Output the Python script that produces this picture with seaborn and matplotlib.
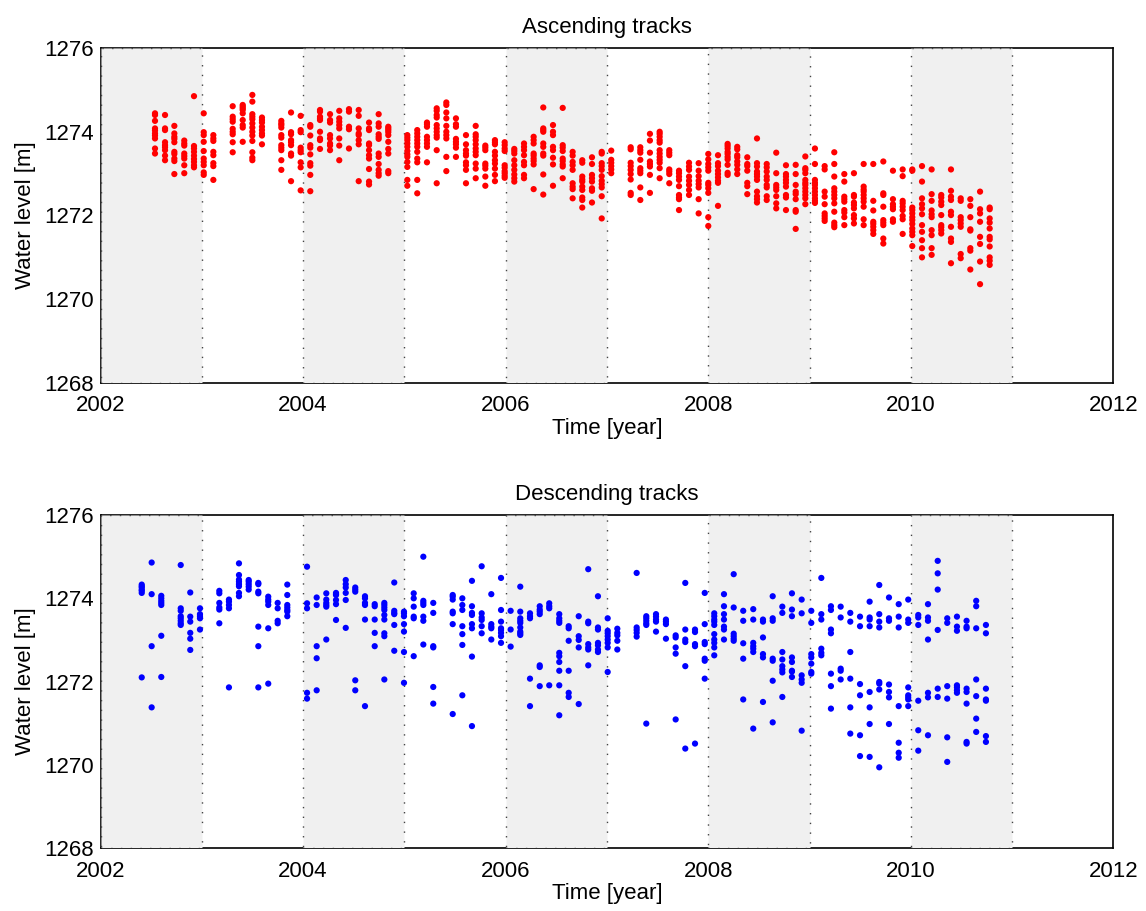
import numpy as np
import pandas as pd
import matplotlib
matplotlib.use("Agg")
import matplotlib.pyplot as plt
import seaborn as sns

# ---- Ascending tracks: pass dates (decimal year) and water levels [m] per pass ----
asc_dates = [
    2002.538, 2002.637, 2002.729, 2002.827, 2002.923, 2003.019, 2003.114,
    2003.305, 2003.404, 2003.499, 2003.594, 2003.785, 2003.881, 2003.976,
    2004.071, 2004.167, 2004.266, 2004.357, 2004.453, 2004.549, 2004.651,
    2004.746, 2004.841, 2005.029, 2005.127, 2005.223, 2005.319, 2005.414,
    2005.509, 2005.608, 2005.704, 2005.799, 2005.894, 2005.990, 2006.085,
    2006.181, 2006.276, 2006.371, 2006.467, 2006.563, 2006.661, 2006.756,
    2006.852, 2006.948, 2007.042, 2007.234, 2007.329, 2007.424, 2007.520,
    2007.615, 2007.711, 2007.810, 2007.905, 2008.000, 2008.096, 2008.191,
    2008.286, 2008.385, 2008.481, 2008.577, 2008.671, 2008.767, 2008.863,
    2008.958, 2009.053, 2009.149, 2009.244, 2009.343, 2009.438, 2009.534,
    2009.629, 2009.728, 2009.823, 2009.919, 2010.014, 2010.110, 2010.205,
    2010.300, 2010.396, 2010.492, 2010.587, 2010.683, 2010.778,
]
asc_levels = [
    [1274.44, 1274.40, 1274.26, 1274.08, 1274.03, 1273.96, 1273.91, 1273.84, 1273.60, 1273.48],
    [1274.40, 1274.08, 1274.04, 1273.75, 1273.68, 1273.63, 1273.56, 1273.43, 1273.32],
    [1274.14, 1273.96, 1273.88, 1273.83, 1273.75, 1273.52, 1273.47, 1273.36, 1273.30, 1272.99],
    [1273.79, 1273.72, 1273.67, 1273.48, 1273.42, 1273.36, 1273.20, 1273.01],
    [1274.85, 1273.66, 1273.60, 1273.52, 1273.43, 1273.35, 1273.28, 1273.20, 1273.15],
    [1274.44, 1273.99, 1273.92, 1273.76, 1273.54, 1273.36, 1273.28, 1273.20, 1273.03, 1272.97],
    [1273.92, 1273.84, 1273.78, 1273.52, 1273.44, 1273.25, 1273.18, 1272.85],
    [1274.61, 1274.36, 1274.30, 1274.24, 1274.07, 1274.00, 1273.94, 1273.75, 1273.51],
    [1274.64, 1274.60, 1274.56, 1274.52, 1274.44, 1274.28, 1274.16, 1274.10, 1273.76],
    [1274.88, 1274.72, 1274.42, 1274.36, 1274.30, 1274.20, 1274.10, 1274.00, 1273.91, 1273.78, 1273.51, 1273.38, 1273.32],
    [1274.34, 1274.28, 1274.22, 1274.12, 1274.04, 1273.96, 1273.91, 1273.70],
    [1274.26, 1274.20, 1274.16, 1274.10, 1273.92, 1273.86, 1273.68, 1273.62, 1273.56, 1273.32, 1273.09],
    [1274.46, 1273.99, 1273.94, 1273.80, 1273.75, 1273.68, 1273.48, 1273.43, 1272.82],
    [1274.38, 1274.04, 1273.99, 1273.62, 1273.56, 1273.51, 1273.27, 1273.15, 1272.60],
    [1274.16, 1274.12, 1273.91, 1273.68, 1273.62, 1273.46, 1273.25, 1273.19, 1272.97, 1272.58],
    [1274.52, 1274.48, 1274.36, 1274.32, 1274.28, 1274.00, 1273.84, 1273.80, 1273.59],
    [1274.42, 1274.28, 1274.22, 1273.92, 1273.84, 1273.72, 1273.67, 1273.56],
    [1274.50, 1274.32, 1274.24, 1274.16, 1274.08, 1273.84, 1273.67, 1273.32],
    [1274.54, 1274.48, 1274.12, 1274.06, 1273.60],
    [1274.52, 1274.38, 1274.08, 1273.96, 1273.92, 1273.80, 1273.70, 1272.82],
    [1274.22, 1274.08, 1274.04, 1273.72, 1273.68, 1273.56, 1273.44, 1273.36, 1273.11, 1272.81, 1272.74],
    [1274.42, 1274.20, 1274.12, 1273.94, 1273.88, 1273.83, 1273.48, 1273.40, 1273.23, 1273.09, 1273.01, 1272.95],
    [1274.12, 1274.08, 1274.04, 1273.99, 1273.92, 1273.76, 1273.59, 1273.48, 1273.06, 1273.01],
    [1273.92, 1273.86, 1273.80, 1273.72, 1273.64, 1273.54, 1273.46, 1273.40, 1273.28, 1273.16, 1272.85, 1272.71],
    [1274.04, 1273.96, 1273.88, 1273.80, 1273.72, 1273.64, 1273.52, 1273.36, 1273.27, 1272.85, 1272.53],
    [1274.22, 1274.18, 1274.12, 1273.88, 1273.80, 1273.72, 1273.64, 1273.27],
    [1274.56, 1274.50, 1274.40, 1274.34, 1274.16, 1274.08, 1274.00, 1273.92, 1273.86, 1273.56, 1272.77],
    [1274.70, 1274.64, 1274.46, 1274.32, 1274.14, 1274.00, 1273.92, 1273.84, 1273.40, 1273.06],
    [1274.32, 1274.18, 1274.12, 1273.83, 1273.76, 1273.70, 1273.62, 1273.40],
    [1273.92, 1273.70, 1273.56, 1273.48, 1273.43, 1273.27, 1273.20, 1273.09, 1272.77],
    [1274.14, 1273.94, 1273.88, 1273.80, 1273.70, 1273.60, 1273.52, 1273.44, 1273.24, 1273.12, 1272.89],
    [1273.67, 1273.62, 1273.56, 1273.24, 1273.19, 1273.12, 1272.93, 1272.71],
    [1273.80, 1273.75, 1273.70, 1273.52, 1273.43, 1273.32, 1273.24, 1273.12, 1272.97, 1272.82],
    [1273.75, 1273.68, 1273.60, 1273.54, 1273.20, 1273.14, 1273.06, 1273.01, 1272.95, 1272.90],
    [1273.59, 1273.54, 1273.48, 1273.32, 1273.20, 1273.09, 1272.98, 1272.89, 1272.81],
    [1273.72, 1273.64, 1273.56, 1273.44, 1273.28, 1273.20, 1272.97, 1272.89],
    [1273.88, 1273.80, 1273.72, 1273.48, 1273.43, 1273.36, 1273.30, 1273.22, 1272.63],
    [1274.58, 1274.08, 1274.04, 1274.00, 1273.72, 1273.64, 1273.48, 1273.43, 1272.98, 1272.50],
    [1274.16, 1274.00, 1273.92, 1273.64, 1273.56, 1273.38, 1273.22, 1272.71],
    [1274.57, 1273.68, 1273.62, 1273.54, 1273.36, 1273.30, 1273.22, 1273.17, 1272.89],
    [1273.52, 1273.43, 1273.28, 1273.20, 1273.09, 1272.77, 1272.69, 1272.63, 1272.41],
    [1273.32, 1273.26, 1272.93, 1272.86, 1272.81, 1272.69, 1272.61, 1272.43, 1272.37, 1272.19],
    [1273.39, 1273.23, 1272.97, 1272.89, 1272.81, 1272.65, 1272.59, 1272.31],
    [1273.52, 1273.48, 1273.25, 1273.18, 1273.09, 1272.94, 1272.83, 1272.75, 1272.67, 1272.46, 1271.93],
    [1273.55, 1273.33, 1273.26, 1273.18, 1273.10, 1273.01],
    [1273.63, 1273.58, 1273.26, 1273.18, 1273.09, 1272.99, 1272.86, 1272.54, 1272.49],
    [1273.63, 1273.56, 1273.50, 1273.33, 1273.13, 1273.07, 1273.01, 1272.67, 1272.37],
    [1273.95, 1273.79, 1273.50, 1273.29, 1273.23, 1273.17, 1272.97, 1272.54],
    [1274.00, 1273.95, 1273.88, 1273.80, 1273.74, 1273.56, 1273.48, 1273.40, 1273.33, 1273.26, 1273.13, 1272.89],
    [1273.56, 1273.50, 1273.44, 1273.10, 1273.05, 1272.99, 1272.77],
    [1273.07, 1273.01, 1272.93, 1272.85, 1272.70, 1272.49, 1272.43, 1272.39, 1272.13],
    [1273.26, 1273.17, 1273.09, 1272.93, 1272.83, 1272.73, 1272.61, 1272.49],
    [1273.25, 1273.07, 1272.94, 1272.83, 1272.75, 1272.67, 1272.39, 1272.05],
    [1273.47, 1273.34, 1273.23, 1273.15, 1273.07, 1272.78, 1272.73, 1272.65, 1272.54, 1271.96, 1271.75],
    [1273.44, 1273.25, 1273.18, 1273.07, 1272.99, 1272.91, 1272.83, 1272.78, 1272.23],
    [1273.71, 1273.66, 1273.60, 1273.52, 1273.47, 1273.40, 1273.34, 1273.21, 1273.02, 1272.97],
    [1273.64, 1273.58, 1273.44, 1273.39, 1273.29, 1273.21, 1273.10, 1272.99],
    [1273.39, 1273.23, 1273.18, 1273.07, 1272.78, 1272.70, 1272.51],
    [1273.84, 1273.25, 1273.17, 1273.05, 1272.99, 1272.93, 1272.85, 1272.57, 1272.46, 1272.39, 1272.31],
    [1273.23, 1273.15, 1273.05, 1272.93, 1272.85, 1272.73, 1272.67, 1272.46, 1272.37],
    [1273.50, 1273.01, 1272.73, 1272.67, 1272.61, 1272.46, 1272.29, 1272.17],
    [1273.20, 1272.99, 1272.93, 1272.85, 1272.78, 1272.69, 1272.49, 1272.43, 1272.13],
    [1273.21, 1272.99, 1272.73, 1272.57, 1272.51, 1272.39, 1272.13, 1272.09, 1271.68],
    [1273.41, 1273.13, 1273.09, 1273.01, 1272.85, 1272.78, 1272.73, 1272.65, 1272.57, 1272.49, 1272.41, 1272.27],
    [1273.60, 1273.23, 1272.85, 1272.78, 1272.73, 1272.65, 1272.57, 1272.49, 1272.41, 1272.35, 1272.30],
    [1273.18, 1273.10, 1272.57, 1272.45, 1272.27, 1272.05, 1271.99, 1271.93, 1271.87],
    [1273.51, 1273.23, 1272.93, 1272.65, 1272.57, 1272.49, 1272.41, 1272.29, 1272.09, 1271.83, 1271.77, 1271.72],
    [1272.99, 1272.81, 1272.45, 1272.39, 1272.33, 1272.13, 1272.07, 1271.96, 1271.77],
    [1273.01, 1272.49, 1272.45, 1272.31, 1272.25, 1272.17, 1272.01, 1271.93, 1271.81],
    [1273.23, 1272.69, 1272.62, 1272.57, 1272.49, 1272.41, 1272.33, 1272.21, 1271.91, 1271.77],
    [1273.23, 1272.35, 1272.12, 1271.85, 1271.80, 1271.73, 1271.65, 1271.56],
    [1273.29, 1272.53, 1272.49, 1272.21, 1271.89, 1271.83, 1271.77, 1271.45, 1271.33],
    [1273.07, 1272.39, 1272.27, 1272.21, 1272.15, 1271.91, 1271.85],
    [1273.10, 1272.94, 1272.35, 1272.29, 1272.21, 1272.13, 1271.99, 1271.91, 1271.56],
    [1273.10, 1273.07, 1272.19, 1272.13, 1272.05, 1271.96, 1271.89, 1271.80, 1271.69, 1271.61, 1271.53, 1271.27],
    [1273.18, 1272.81, 1272.41, 1272.27, 1272.17, 1272.03, 1271.77, 1271.61, 1271.41, 1271.22, 1271.00],
    [1273.10, 1272.51, 1272.35, 1272.12, 1272.03, 1271.96, 1271.65, 1271.53, 1271.22, 1271.06],
    [1272.49, 1272.43, 1272.33, 1272.25, 1272.01, 1271.77, 1271.72, 1271.65, 1271.57],
    [1273.10, 1272.59, 1272.45, 1272.37, 1272.09, 1272.01, 1271.73, 1271.45, 1271.37, 1270.86],
    [1272.41, 1272.35, 1271.96, 1271.89, 1271.81, 1271.73, 1271.08, 1270.98],
    [1272.39, 1272.23, 1271.96, 1271.67, 1271.64, 1271.22, 1271.16, 1270.71],
    [1272.57, 1272.15, 1272.05, 1271.85, 1271.49, 1271.32, 1270.90, 1270.36],
    [1272.19, 1272.15, 1271.93, 1271.83, 1271.69, 1271.49, 1271.43, 1271.26, 1271.00, 1270.92, 1270.82],
]

# ---- Descending tracks ----
desc_dates = [
    2002.407, 2002.505, 2002.600, 2002.792, 2002.886, 2002.982, 2003.173,
    2003.268, 2003.367, 2003.463, 2003.558, 2003.656, 2003.749, 2003.844,
    2004.039, 2004.134, 2004.229, 2004.325, 2004.421, 2004.515, 2004.611,
    2004.707, 2004.802, 2004.900, 2004.996, 2005.092, 2005.187, 2005.285,
    2005.477, 2005.572, 2005.667, 2005.763, 2005.858, 2005.954, 2006.049,
    2006.144, 2006.240, 2006.336, 2006.430, 2006.529, 2006.622, 2006.721,
    2006.815, 2006.911, 2007.007, 2007.102, 2007.293, 2007.388, 2007.484,
    2007.582, 2007.678, 2007.773, 2007.869, 2007.965, 2008.059, 2008.155,
    2008.251, 2008.345, 2008.444, 2008.540, 2008.636, 2008.731, 2008.826,
    2008.922, 2009.017, 2009.116, 2009.211, 2009.307, 2009.402, 2009.498,
    2009.593, 2009.688, 2009.784, 2009.880, 2009.974, 2010.073, 2010.169,
    2010.265, 2010.359, 2010.455, 2010.550, 2010.645, 2010.741,
]
desc_levels = [
    [1274.33, 1274.29, 1274.26, 1274.21, 1274.18, 1274.13, 1272.10],
    [1274.86, 1274.10, 1272.85, 1271.38],
    [1274.06, 1274.00, 1273.94, 1273.89, 1273.84, 1273.10, 1272.11],
    [1274.80, 1273.76, 1273.70, 1273.57, 1273.52, 1273.46, 1273.40, 1273.36],
    [1274.14, 1273.56, 1273.44, 1273.17, 1273.03, 1272.76],
    [1273.76, 1273.62, 1273.57, 1273.52, 1273.25],
    [1274.18, 1274.12, 1273.89, 1273.78, 1273.73, 1273.40],
    [1273.97, 1273.92, 1273.84, 1273.76, 1271.86],
    [1274.84, 1274.56, 1274.45, 1274.40, 1274.34, 1274.29, 1274.13, 1274.05],
    [1274.44, 1274.40, 1274.34, 1274.28, 1274.21],
    [1274.37, 1274.34, 1274.16, 1274.12, 1273.32, 1272.85, 1271.86],
    [1274.04, 1273.97, 1273.92, 1273.84, 1273.28, 1271.95],
    [1273.89, 1273.76, 1273.46, 1273.40],
    [1274.33, 1274.08, 1273.84, 1273.78, 1273.72, 1273.68, 1273.57],
    [1274.76, 1273.88, 1273.76, 1271.73, 1271.59],
    [1274.02, 1273.84, 1272.85, 1272.56, 1271.79],
    [1274.12, 1273.97, 1273.89, 1273.84, 1273.80, 1273.01],
    [1274.13, 1274.10, 1274.08, 1273.96, 1273.86, 1273.48],
    [1274.44, 1274.34, 1274.26, 1274.13, 1273.96, 1273.29],
    [1274.26, 1274.21, 1274.16, 1272.03, 1271.79],
    [1274.05, 1274.00, 1273.89, 1273.84, 1273.49, 1271.41],
    [1273.86, 1273.81, 1273.49, 1273.17, 1272.85],
    [1273.89, 1273.84, 1273.78, 1273.72, 1273.60, 1273.49, 1273.16, 1273.09, 1272.05],
    [1274.38, 1273.70, 1273.65, 1273.62, 1273.36, 1272.74],
    [1273.68, 1273.64, 1273.57, 1273.38, 1273.20, 1272.71, 1271.97],
    [1274.12, 1274.00, 1273.80, 1273.56, 1273.52, 1272.61],
    [1275.00, 1273.94, 1273.89, 1273.84, 1273.56, 1273.46, 1272.89],
    [1273.89, 1273.65, 1272.85, 1272.82, 1271.87, 1271.47],
    [1274.08, 1274.04, 1273.97, 1273.68, 1273.64, 1273.38, 1271.22],
    [1274.00, 1273.84, 1273.72, 1273.33, 1273.14, 1272.88, 1271.67],
    [1274.42, 1273.81, 1273.65, 1273.60, 1273.38, 1273.28, 1272.60, 1270.93],
    [1274.77, 1273.64, 1273.54, 1273.48, 1273.33, 1273.16],
    [1274.10, 1273.38, 1273.32, 1273.28, 1273.01],
    [1274.49, 1273.72, 1273.44, 1273.28, 1273.24, 1273.17, 1273.09, 1272.93],
    [1273.70, 1273.25, 1272.84],
    [1274.28, 1273.68, 1273.52, 1273.46, 1273.41, 1273.30, 1273.20, 1273.16, 1273.12],
    [1273.64, 1273.57, 1273.52, 1272.07, 1271.41],
    [1273.81, 1273.73, 1273.68, 1273.62, 1272.39, 1272.35, 1271.89],
    [1273.88, 1273.81, 1273.76, 1271.91],
    [1273.62, 1273.52, 1273.46, 1273.41, 1272.69, 1272.61, 1272.47, 1272.26, 1271.91, 1271.19],
    [1273.33, 1273.28, 1272.98, 1272.26, 1271.73, 1271.63],
    [1273.57, 1273.09, 1273.00, 1272.82, 1271.46],
    [1274.70, 1273.44, 1273.40, 1272.90, 1272.82, 1272.77, 1272.39],
    [1274.05, 1273.30, 1273.25, 1272.93, 1272.87, 1272.77, 1272.71],
    [1273.52, 1273.22, 1273.16, 1273.09, 1273.01, 1272.93, 1272.82, 1272.23],
    [1273.27, 1273.17, 1273.11, 1272.98, 1272.77],
    [1274.61, 1273.30, 1273.24, 1273.17, 1273.08],
    [1273.57, 1273.52, 1273.46, 1273.40, 1273.36, 1270.99],
    [1273.62, 1273.56, 1273.49, 1273.44, 1273.20],
    [1273.49, 1273.44, 1273.38, 1273.03],
    [1273.11, 1273.06, 1272.82, 1272.67, 1271.09],
    [1274.37, 1273.25, 1273.01, 1272.95, 1272.37, 1270.39],
    [1273.25, 1273.19, 1272.90, 1272.85, 1270.51],
    [1274.13, 1273.38, 1272.95, 1272.90, 1272.55, 1272.50, 1272.07],
    [1273.64, 1273.57, 1273.49, 1273.44, 1273.36, 1273.14, 1273.01, 1272.93, 1272.82, 1272.63],
    [1274.10, 1273.81, 1273.62, 1273.49, 1273.32, 1273.25, 1273.01],
    [1274.58, 1273.78, 1273.15, 1273.09, 1273.03, 1272.98],
    [1273.70, 1273.46, 1272.92, 1272.55, 1271.57],
    [1273.74, 1273.49, 1272.93, 1272.85, 1272.79, 1272.71, 1270.87],
    [1273.49, 1273.44, 1273.06, 1272.66, 1272.58, 1271.51],
    [1274.05, 1273.52, 1273.46, 1272.55, 1272.50, 1272.02, 1271.02],
    [1273.80, 1273.65, 1272.71, 1272.53, 1272.37, 1272.29, 1272.22, 1271.63],
    [1274.12, 1273.73, 1273.57, 1272.58, 1272.47, 1272.26, 1272.24, 1272.11],
    [1273.97, 1273.64, 1272.15, 1272.05, 1271.97, 1270.82],
    [1273.70, 1273.41, 1272.66, 1272.58, 1272.43, 1272.23, 1272.19],
    [1274.49, 1273.62, 1273.49, 1272.79, 1272.69, 1272.63],
    [1273.81, 1273.72, 1273.25, 1273.16, 1272.19, 1271.89, 1271.35],
    [1273.80, 1273.54, 1272.31, 1272.26, 1272.05],
    [1273.65, 1273.44, 1272.71, 1272.07, 1271.38, 1270.75],
    [1273.56, 1273.33, 1271.94, 1271.67, 1270.71, 1270.21],
    [1273.92, 1273.54, 1273.49, 1273.33, 1271.75, 1271.38, 1270.98, 1270.19],
    [1274.32, 1273.62, 1273.44, 1273.30, 1271.99, 1271.95, 1271.81, 1269.94],
    [1274.02, 1273.52, 1273.46, 1271.93, 1271.75, 1271.62, 1270.98],
    [1273.86, 1273.56, 1273.30, 1271.41, 1270.53, 1270.29, 1270.17],
    [1273.97, 1273.49, 1273.41, 1271.86, 1271.67, 1271.62, 1271.57, 1271.41],
    [1273.60, 1273.54, 1273.36, 1271.54, 1270.83, 1270.34],
    [1273.86, 1273.54, 1273.46, 1273.01, 1271.73, 1271.62, 1270.71],
    [1274.90, 1274.60, 1274.21, 1273.24, 1271.83, 1271.63],
    [1273.52, 1273.41, 1271.89, 1271.59, 1270.66, 1270.07],
    [1273.56, 1273.32, 1273.22, 1271.91, 1271.86, 1271.79, 1271.73],
    [1273.46, 1273.32, 1273.28, 1271.83, 1271.75, 1271.47, 1270.55, 1270.51],
    [1273.94, 1273.81, 1273.28, 1272.05, 1271.65, 1271.11, 1270.79],
    [1273.36, 1273.16, 1271.83, 1271.57, 1271.54, 1270.69, 1270.55],
]

# Shaded years (start of each grey band)
shaded_years = [2002, 2004, 2006, 2008, 2010]
x_ticks = [2002, 2004, 2006, 2008, 2010, 2012]
y_ticks = [1268, 1270, 1272, 1274, 1276]


def to_frame(dates, levels):
    rows = [(d, h) for d, hs in zip(dates, levels) for h in hs]
    return pd.DataFrame(rows, columns=["time", "level"])


sns.set_style("white")
plt.rcParams["font.family"] = ["Liberation Sans", "DejaVu Sans"]
plt.rcParams["text.color"] = "black"
plt.rcParams["axes.labelcolor"] = "black"
plt.rcParams["xtick.color"] = "black"
plt.rcParams["ytick.color"] = "black"

fig = plt.figure(figsize=(11.46, 9.11), dpi=100)
ax_top = fig.add_axes([0.0877, 0.5796, 0.8839, 0.3677])
ax_bot = fig.add_axes([0.0877, 0.0691, 0.8839, 0.3655])

panels = [
    (ax_top, to_frame(asc_dates, asc_levels), "#ff0000", "Ascending tracks"),
    (ax_bot, to_frame(desc_dates, desc_levels), "#0000ff", "Descending tracks"),
]

for ax, df, color, title in panels:
    for y0 in shaded_years:
        ax.axvspan(y0, y0 + 1, ymin=0, ymax=1, facecolor="#f0f0f0",
                   edgecolor="#444444", linestyle=(0, (1, 6)), linewidth=1.0,
                   zorder=3)
    sns.scatterplot(data=df, x="time", y="level", ax=ax, color=color,
                    s=20, linewidth=0, edgecolor="none", zorder=4,
                    legend=False)
    ax.set_xlim(2002, 2012)
    ax.set_ylim(1268, 1276)
    ax.set_xticks(x_ticks)
    ax.set_yticks(y_ticks)
    ax.tick_params(axis="x", labelsize=16, length=0, pad=9)
    ax.tick_params(axis="y", labelsize=16, length=0, pad=5)
    ax.set_xlabel("Time [year]", fontsize=16, labelpad=1)
    ax.set_ylabel("Water level [m]", fontsize=16, labelpad=6)
    ax.set_title(title, fontsize=16, pad=11)
    for sp in ax.spines.values():
        sp.set_color("black")
        sp.set_linewidth(1.2)
        sp.set_visible(True)

fig.savefig("out.png", dpi=100, facecolor="white")
